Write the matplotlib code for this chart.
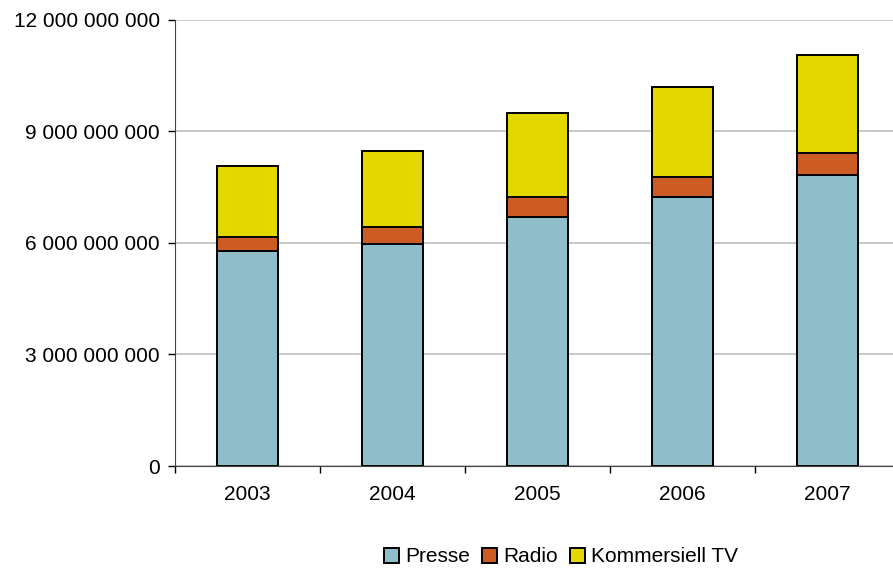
import numpy as np
import matplotlib
matplotlib.use("Agg")
import matplotlib.pyplot as plt
from matplotlib.ticker import FuncFormatter, FixedLocator

plt.rcParams["font.family"] = ["Liberation Sans", "DejaVu Sans"]

years = ["2003", "2004", "2005", "2006", "2007"]
presse = [5.79e9, 5.96e9, 6.70e9, 7.24e9, 7.82e9]
radio = [0.37e9, 0.47e9, 0.54e9, 0.54e9, 0.59e9]
kommersiell_tv = [1.89e9, 2.04e9, 2.26e9, 2.41e9, 2.64e9]

series_names = ["Presse", "Radio", "Kommersiell TV"]
colors = ["#8FBDC9", "#CD5B24", "#E2D800"]

W, H = 893, 571
fig = plt.figure(figsize=(W / 100, H / 100), dpi=100)
# plot area runs slightly past the right edge of the figure
ax = fig.add_axes([175 / W, 1 - 466 / H, 725 / W, (466 - 19.5) / H])

x = np.arange(len(years))
bottom = np.zeros(len(years))
for name, vals, c in zip(series_names, [presse, radio, kommersiell_tv], colors):
    ax.bar(x, vals, width=0.414, bottom=bottom, color=c, edgecolor="black",
           linewidth=1.4, label=name, zorder=3)
    bottom += np.array(vals)

ax.set_xlim(-0.5, len(years) - 0.5)
ax.set_ylim(0, 12e9)
ax.set_yticks(np.arange(0, 12.1e9, 3e9))
ax.yaxis.set_major_formatter(FuncFormatter(lambda v, p: f"{int(v):,}".replace(",", " ")))
ax.grid(axis="y", color="#BFBFBF", linewidth=1.2, zorder=0)

ax.set_xticks(x)
ax.set_xticklabels(years)
ax.xaxis.set_minor_locator(FixedLocator(np.arange(-0.5, len(years), 1)))
ax.tick_params(axis="x", which="major", length=0, pad=14, labelsize=15)
ax.tick_params(axis="x", which="minor", length=5, width=1, direction="out")
ax.tick_params(axis="y", length=5, width=1, direction="out", labelsize=15, pad=6)

for s in ["top", "right"]:
    ax.spines[s].set_visible(False)
ax.spines["left"].set_color("#444444")
ax.spines["bottom"].set_color("#444444")

fig.legend(loc="center", bbox_to_anchor=(561 / W, 1 - 557 / H), ncol=3, frameon=False,
           fontsize=15, handlelength=0.7, handleheight=0.7, handletextpad=0.3,
           columnspacing=0.6)

fig.savefig("out.png", dpi=100)
